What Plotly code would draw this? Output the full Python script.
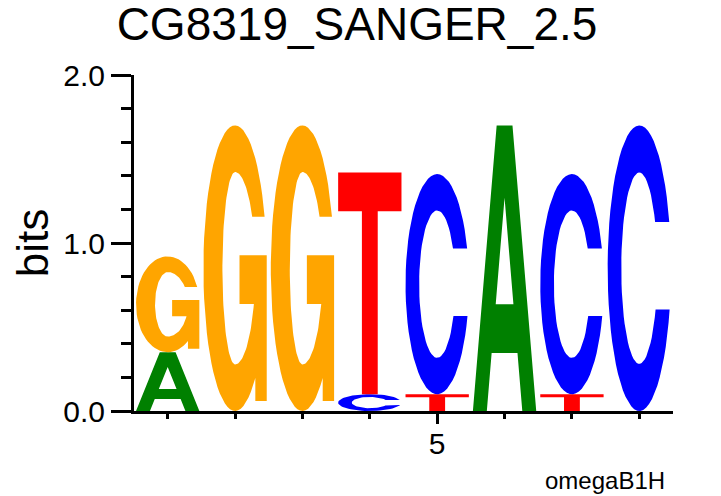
import numpy as np
import plotly.graph_objects as go

# sequence logo data: letters stacked from bottom to top in each column
positions = [1, 2, 3, 4, 5, 6, 7, 8]
stack_letters = [["A", "G"], ["G"], ["G"], ["C", "T"], ["T", "C"], ["A"], ["T", "C"], ["C"]]
stack_bits = [[0.35, 0.57], [1.70], [1.70], [0.10, 1.32], [0.10, 1.31], [1.70], [0.10, 1.31], [1.70]]

letter_colors = {"A": "#008000", "C": "#0000FF", "G": "#FFA500", "T": "#FF0000"}

title_text = "CG8319_SANGER_2.5"
y_ticks = [0, 1, 2]
y_ticktext = ["0.0", "1.0", "2.0"]
x_ticks = [5]
x_ticktext = ["5"]
footer = "omegaB1H"

FONT = "Liberation Sans, Arial, Helvetica, sans-serif"
LETTER_W = 0.94


def arc(rx, ry, a0, a1, n=60, cx=0.5, cy=0.5):
    t = np.radians(np.linspace(a0, a1, n))
    return list(cx + rx * np.cos(t)), list(cy + ry * np.sin(t))


def deg_for_y(y, ry, cy=0.5):
    return np.degrees(np.arcsin((y - cy) / ry))


def glyph(letter):
    # outlines in a unit box, list of contours (holes wound the other way)
    if letter == "T":
        xs = [0, 1, 1, 0.625, 0.625, 0.375, 0.375, 0]
        ys = [1, 1, 0.825, 0.825, 0, 0, 0.825, 0.825]
        return [(xs, ys)]
    if letter == "A":
        xs = [0, 0.375, 0.625, 1, 0.78, 0.704, 0.296, 0.22]
        ys = [0, 1, 1, 0, 0, 0.203, 0.203, 0]
        hx = [0.36, 0.64, 0.5]
        hy = [0.374, 0.374, 0.747]
        return [(xs, ys), (hx, hy)]
    if letter == "C":
        top, bot = 0.662, 0.355
        orx, ory, irx, iry = 0.5, 0.5, 0.285, 0.335
        ox, oy = arc(orx, ory, deg_for_y(top, ory), 360 + deg_for_y(bot, ory))
        ix, iy = arc(irx, iry, 360 + deg_for_y(bot, iry), deg_for_y(top, iry))
        return [(ox + ix, oy + iy)]
    if letter == "G":
        top, bar_t, bar_b, stem_x, bar_x, foot = 0.68, 0.545, 0.375, 0.82, 0.57, 0.035
        orx, ory = 0.5, 0.5
        irl, irr, iry = 0.2, 0.32, 0.337
        a_end = -np.degrees(np.arccos((stem_x - 0.5) / orx))
        ox, oy = arc(orx, ory, deg_for_y(top, ory), 360 + a_end)
        ox += [stem_x, 1.0, 1.0, bar_x, bar_x]
        oy += [foot, foot, bar_t, bar_t, bar_b]
        x1, y1 = arc(irr, iry, deg_for_y(bar_b, iry), -90, 30)
        x2, y2 = arc(irl, iry, 270, 90, 60)
        x3, y3 = arc(irr, iry, 90, deg_for_y(top, iry), 30)
        return [(ox + x1 + x2 + x3, oy + y1 + y2 + y3)]
    return []


fig = go.Figure()
for pos, letters, bits in zip(positions, stack_letters, stack_bits):
    base = 0.0
    for letter, h in zip(letters, bits):
        xs, ys = [], []
        for gx, gy in glyph(letter):
            xs += [pos - LETTER_W / 2 + LETTER_W * v for v in gx] + [None]
            ys += [base + h * v for v in gy] + [None]
        fig.add_trace(go.Scatter(
            x=xs, y=ys, mode="lines", fill="toself",
            fillcolor=letter_colors[letter], line=dict(width=0),
            hoverinfo="skip", showlegend=False))
        base += h

# page body has an 8px margin, so the figure is a bit smaller than the window
fig.update_layout(
    width=713, height=488,
    margin=dict(l=126, r=48, t=67, b=85),
    paper_bgcolor="white", plot_bgcolor="white",
    font=dict(family=FONT, color="black"),
    title=dict(text=title_text, font=dict(size=46), x=0.4895, xref="container",
               xanchor="center", y=0.968, yref="container", yanchor="middle"),
    showlegend=False,
)
fig.update_xaxes(
    range=[0.5, 8.5], showgrid=False, zeroline=False,
    showline=True, linewidth=3, linecolor="black",
    ticks="outside", tickvals=x_ticks, ticktext=x_ticktext,
    ticklen=10, tickwidth=3, tickcolor="black", tickfont=dict(size=30),
    ticklabelstandoff=-6,
    minor=dict(tickvals=positions, ticks="outside", ticklen=5, tickwidth=3, tickcolor="black"),
)
fig.update_yaxes(
    range=[0, 2], showgrid=False, zeroline=False,
    showline=True, linewidth=3, linecolor="black",
    ticks="outside", tickvals=y_ticks, ticktext=y_ticktext,
    ticklen=20, tickwidth=3, tickcolor="black", tickfont=dict(size=30),
    minor=dict(dtick=0.2, ticks="outside", ticklen=10, tickwidth=3, tickcolor="black"),
    title=dict(text="bits", font=dict(size=44), standoff=8),
)
fig.add_annotation(
    text=footer, xref="paper", yref="paper", x=0.989, y=-0.208,
    xanchor="right", yanchor="middle", showarrow=False,
    font=dict(size=24),
)

fig.write_html("out.html")
